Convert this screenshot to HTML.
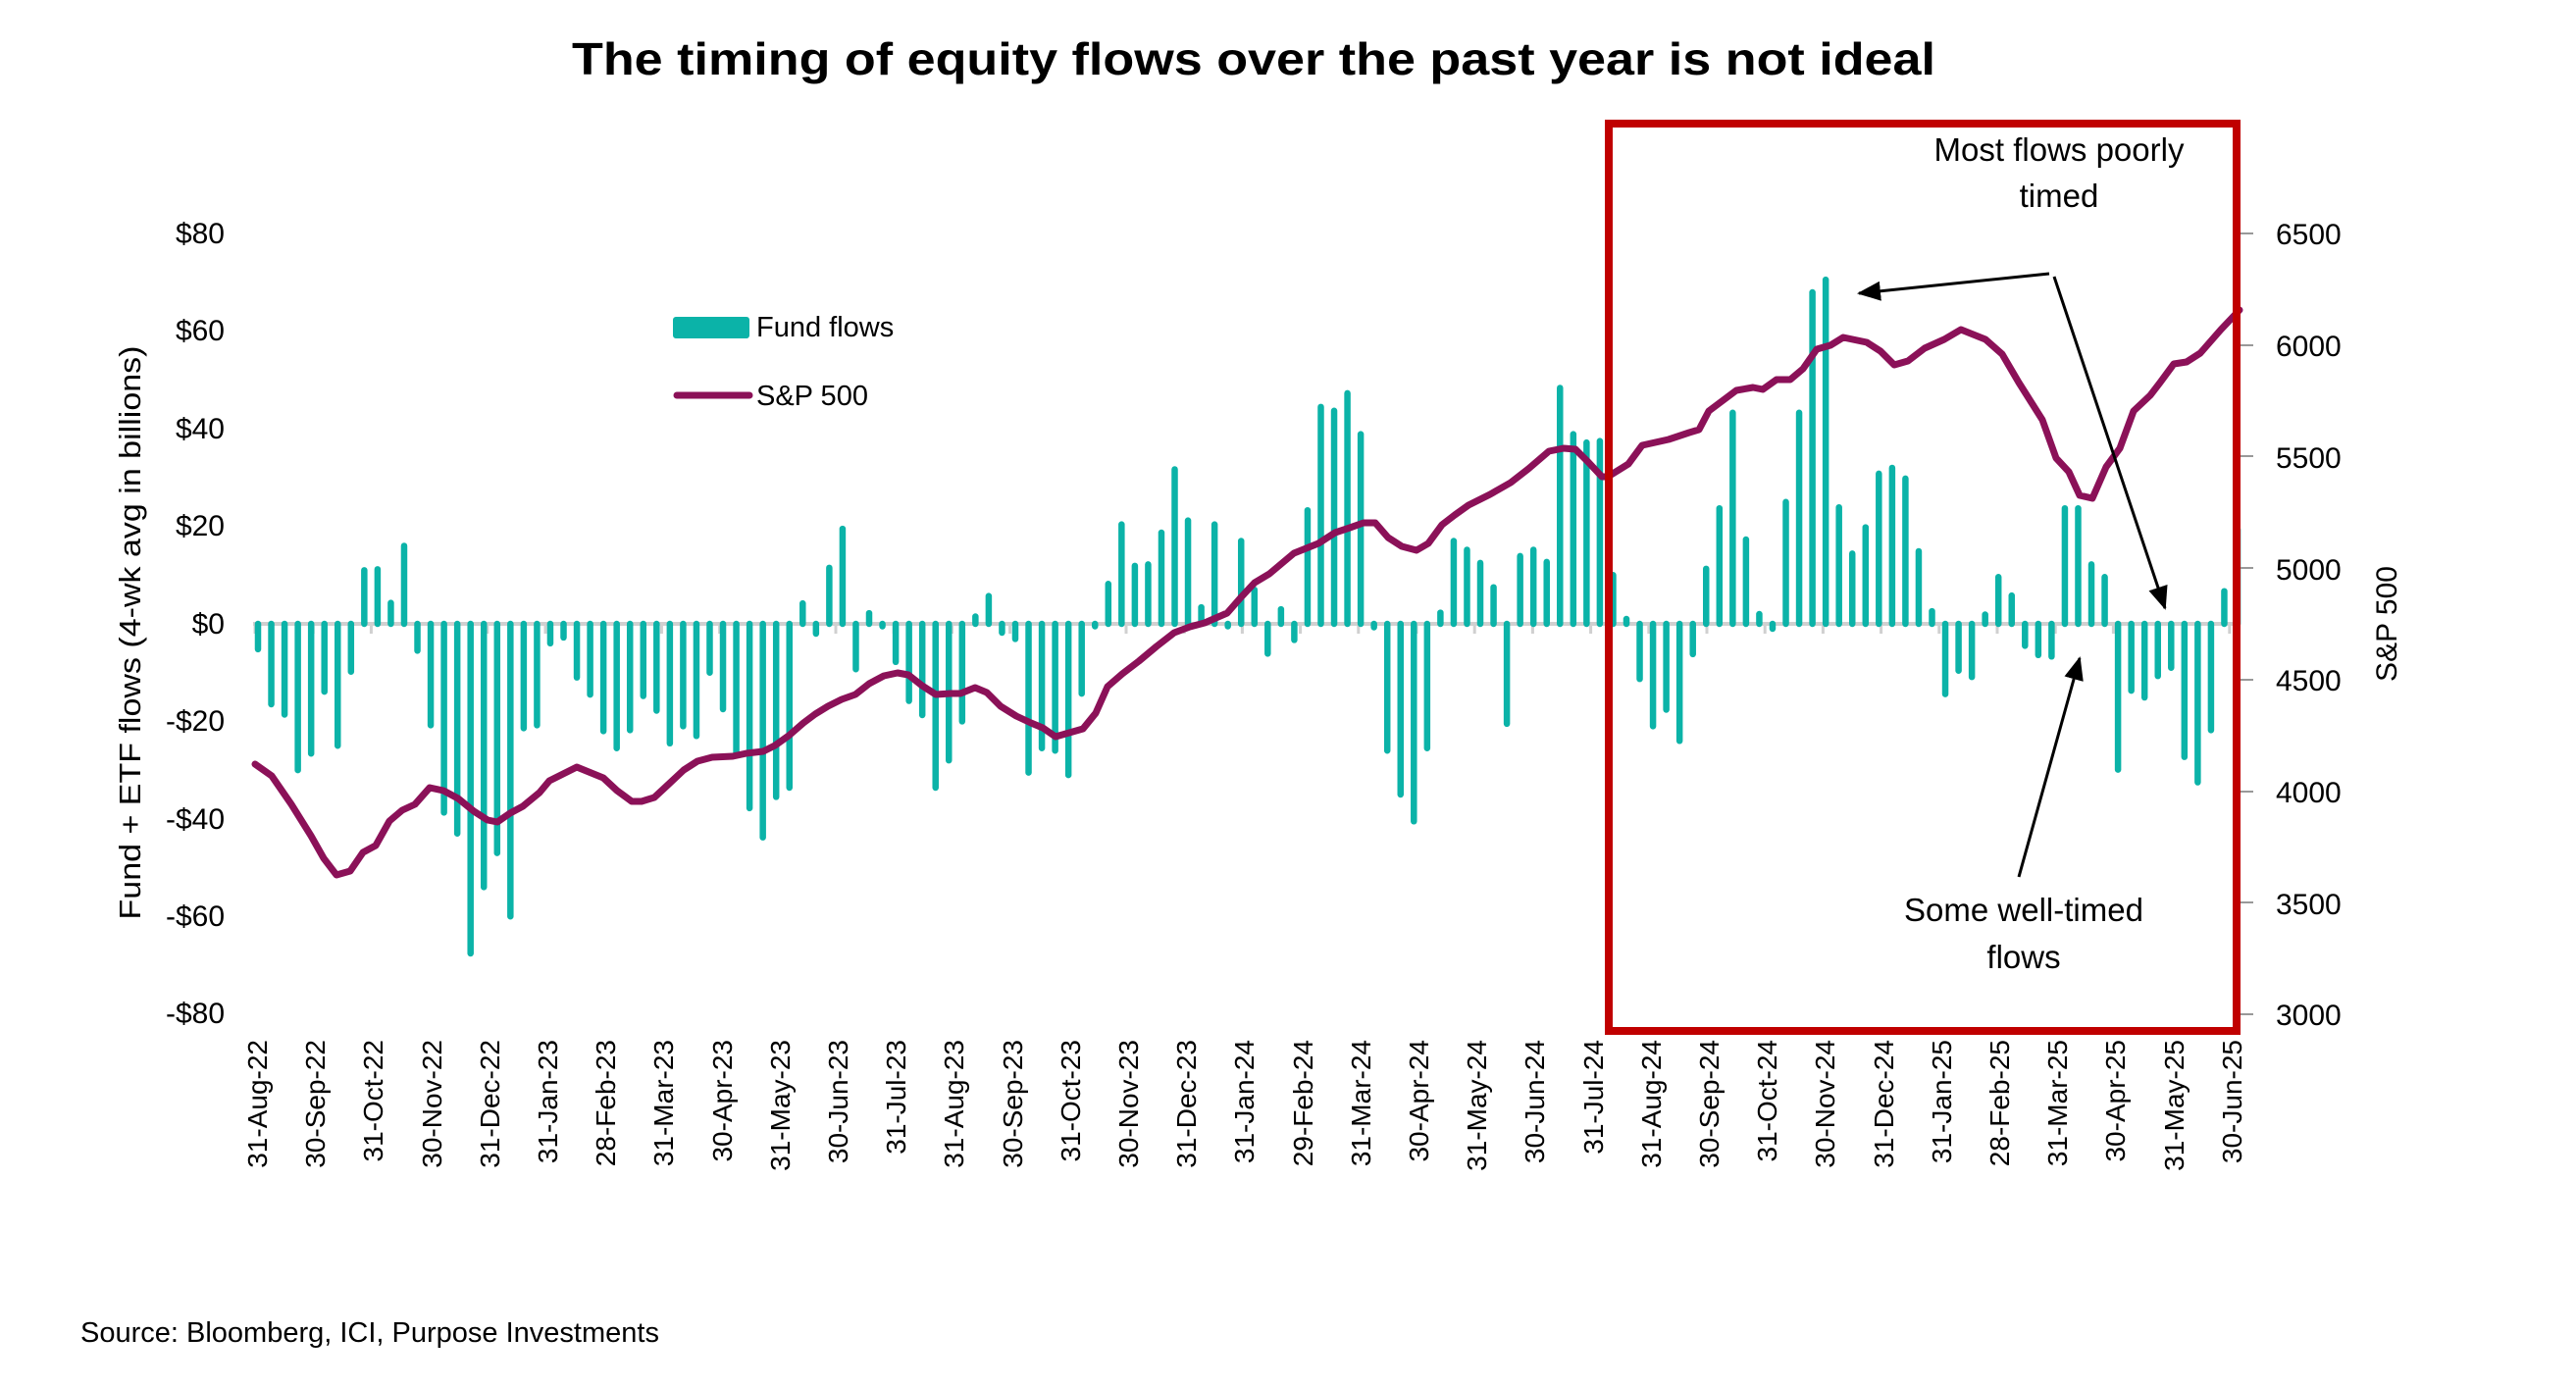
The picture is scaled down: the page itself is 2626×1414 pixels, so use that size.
<!DOCTYPE html>
<html><head><meta charset="utf-8"><style>
html,body{margin:0;padding:0;background:#fff}
svg{display:block}
text{font-family:"Liberation Sans",sans-serif;fill:#000}
</style></head><body>
<svg id="c" width="2626" height="1414" viewBox="0 0 2626 1414" xmlns="http://www.w3.org/2000/svg">
<rect width="2626" height="1414" fill="#fff"/>
<text x="1278" y="76" text-anchor="middle" font-size="46" font-weight="bold" textLength="1390" lengthAdjust="spacingAndGlyphs">The timing of equity flows over the past year is not ideal</text>
<g font-size="30" text-anchor="end">
<text x="229" y="248">$80</text>
<text x="229" y="347">$60</text>
<text x="229" y="447">$40</text>
<text x="229" y="546">$20</text>
<text x="229" y="646">$0</text>
<text x="229" y="745">-$20</text>
<text x="229" y="845">-$40</text>
<text x="229" y="944">-$60</text>
<text x="229" y="1043">-$80</text>
</g>
<text transform="translate(143,645) rotate(-90)" text-anchor="middle" font-size="31" textLength="585" lengthAdjust="spacingAndGlyphs">Fund + ETF flows (4-wk avg in billions)</text>
<g id="zero"></g>
<g id="bars"></g>
<g id="line"></g>
<g font-size="30">
<text x="2320" y="249">6500</text>
<text x="2320" y="363">6000</text>
<text x="2320" y="477">5500</text>
<text x="2320" y="591">5000</text>
<text x="2320" y="704">4500</text>
<text x="2320" y="818">4000</text>
<text x="2320" y="932">3500</text>
<text x="2320" y="1045">3000</text>
</g>
<g stroke="#999" stroke-width="2">
<line x1="2284" y1="238" x2="2297" y2="238"/><line x1="2284" y1="352" x2="2297" y2="352"/><line x1="2284" y1="465" x2="2297" y2="465"/><line x1="2284" y1="579" x2="2297" y2="579"/><line x1="2284" y1="693" x2="2297" y2="693"/><line x1="2284" y1="807" x2="2297" y2="807"/><line x1="2284" y1="920" x2="2297" y2="920"/><line x1="2284" y1="1034" x2="2297" y2="1034"/>
</g>
<text transform="translate(2443,636) rotate(-90)" text-anchor="middle" font-size="30">S&amp;P 500</text>
<rect x="686" y="323" width="78" height="22" rx="3" fill="#0bb3a8"/>
<text x="771" y="343" font-size="29">Fund flows</text>
<line x1="690" y1="403" x2="764" y2="403" stroke="#8b1158" stroke-width="7" stroke-linecap="round"/>
<text x="771" y="413" font-size="29">S&amp;P 500</text>
<g font-size="28" text-anchor="end">
<text transform="translate(272,1060) rotate(-90)">31-Aug-22</text>
<text transform="translate(331,1060) rotate(-90)">30-Sep-22</text>
<text transform="translate(390,1060) rotate(-90)">31-Oct-22</text>
<text transform="translate(450,1060) rotate(-90)">30-Nov-22</text>
<text transform="translate(509,1060) rotate(-90)">31-Dec-22</text>
<text transform="translate(568,1060) rotate(-90)">31-Jan-23</text>
<text transform="translate(627,1060) rotate(-90)">28-Feb-23</text>
<text transform="translate(686,1060) rotate(-90)">31-Mar-23</text>
<text transform="translate(746,1060) rotate(-90)">30-Apr-23</text>
<text transform="translate(805,1060) rotate(-90)">31-May-23</text>
<text transform="translate(864,1060) rotate(-90)">30-Jun-23</text>
<text transform="translate(923,1060) rotate(-90)">31-Jul-23</text>
<text transform="translate(982,1060) rotate(-90)">31-Aug-23</text>
<text transform="translate(1042,1060) rotate(-90)">30-Sep-23</text>
<text transform="translate(1101,1060) rotate(-90)">31-Oct-23</text>
<text transform="translate(1160,1060) rotate(-90)">30-Nov-23</text>
<text transform="translate(1219,1060) rotate(-90)">31-Dec-23</text>
<text transform="translate(1278,1060) rotate(-90)">31-Jan-24</text>
<text transform="translate(1338,1060) rotate(-90)">29-Feb-24</text>
<text transform="translate(1397,1060) rotate(-90)">31-Mar-24</text>
<text transform="translate(1456,1060) rotate(-90)">30-Apr-24</text>
<text transform="translate(1515,1060) rotate(-90)">31-May-24</text>
<text transform="translate(1574,1060) rotate(-90)">30-Jun-24</text>
<text transform="translate(1634,1060) rotate(-90)">31-Jul-24</text>
<text transform="translate(1693,1060) rotate(-90)">31-Aug-24</text>
<text transform="translate(1752,1060) rotate(-90)">30-Sep-24</text>
<text transform="translate(1811,1060) rotate(-90)">31-Oct-24</text>
<text transform="translate(1870,1060) rotate(-90)">30-Nov-24</text>
<text transform="translate(1930,1060) rotate(-90)">31-Dec-24</text>
<text transform="translate(1989,1060) rotate(-90)">31-Jan-25</text>
<text transform="translate(2048,1060) rotate(-90)">28-Feb-25</text>
<text transform="translate(2107,1060) rotate(-90)">31-Mar-25</text>
<text transform="translate(2166,1060) rotate(-90)">30-Apr-25</text>
<text transform="translate(2226,1060) rotate(-90)">31-May-25</text>
<text transform="translate(2285,1060) rotate(-90)">30-Jun-25</text>
</g>
<rect x="1640" y="126" width="640" height="925" fill="none" stroke="#c00000" stroke-width="8"/>
<g font-size="33" text-anchor="middle">
<text x="2099" y="164">Most flows poorly</text>
<text x="2099" y="211">timed</text>
<text x="2063" y="939">Some well-timed</text>
<text x="2063" y="987">flows</text>
</g>
<defs><marker id="ah" markerWidth="24" markerHeight="20" refX="22" refY="10" orient="auto" markerUnits="userSpaceOnUse" viewBox="0 0 24 20"><path d="M0,0 L24,10 L0,20 z" fill="#000"/></marker></defs>
<g stroke="#000" stroke-width="3" fill="none">
<line x1="2089" y1="279" x2="1895" y2="299" marker-end="url(#ah)"/>
<line x1="2094" y1="282" x2="2207" y2="620" marker-end="url(#ah)"/>
<line x1="2058" y1="894" x2="2120" y2="671" marker-end="url(#ah)"/>
</g>
<text x="82" y="1368" font-size="29">Source: Bloomberg, ICI, Purpose Investments</text>
</svg>
<script>
(function(){
var NS="http://www.w3.org/2000/svg";
function el(t,a,p){var e=document.createElementNS(NS,t);for(var k in a)e.setAttribute(k,a[k]);p.appendChild(e);return e;}
var z=636,k=4.97;
var zg=document.getElementById('zero');
el('line',{x1:258,y1:z,x2:2284,y2:z,stroke:'#d0d0d0','stroke-width':4},zg);
for(var i=0;i<35;i++){var x=260+59.2*i;el('line',{x1:x,y1:z,x2:x,y2:z+10,stroke:'#d0d0d0','stroke-width':3},zg);}
var v=[-5.2,-16.5,-18.6,-30,-26.6,-13.9,-25,-9.8,11,11.2,4.3,16,-5.5,-20.8,-38.7,-43,-67.6,-54,-47,-60,-21.4,-20.8,
-4,-2.8,-11,-14.5,-22,-25.5,-21.8,-14.8,-17.8,-24.5,-21,-23,-10,-17.5,-27,-37.8,-43.8,-35.5,-33.6,4.2,-2,11.5,19.5,-9.3,2.2,-0.5,-7.8,-15.8,-18.7,-33.6,-28,-20,1.5,5.7,-1.8,-3.1,-30.5,-25.5,-26,-31,
-14.3,-0.5,8.2,20.4,11.9,12.2,18.7,31.7,21.2,3.4,20.4,-0.5,17,7,-6.1,3,-3.3,23.3,44.5,43.7,47.3,38.9,-0.7,-26,-35,-40.5,-25.5,2.3,17,15.2,12.5,7.5,-20.5,13.9,15.2,12.7,48.4,38.9,37.2,37.5,10,
1,-11.3,-21,-17.6,-24,-6.2,11.3,23.7,43.3,17.3,2,-1,25,43.3,68,70.6,23.9,14.4,19.8,30.8,32,29.8,14.9,2.6,-14.4,-9.6,-10.9,1.9,9.6,5.8,-4.5,-6.4,-6.7,23.7,23.7,12.2,9.6,-29.9,-13.7,-15.1,-10.7,-9,-27.3,-32.5,-21.8,6.7,19.3];
var bg=document.getElementById('bars');
var n=v.length,x0=263,dx=(2281-263)/(n-1);
for(var i=0;i<n;i++){var x=x0+dx*i,h=v[i]*k;
el('line',{x1:x,y1:z,x2:x,y2:z-h,stroke:'#0bb3a8','stroke-width':6.5,'stroke-linecap':'round'},bg);}
var p=[[260,779],[277,791],[297,820],[317,852],[330,875],[343,892],[357,888],[370,869],[383,862],[397,837],[410,826],[423,820],[438,803],[452,806],[467,814],[483,827],[497,836],[507,838],[520,829],[533,822],[550,808],[560,796],[588,782],[615,793],[629,806],[644,817],[654,817],[667,813],[681,800],[697,785],[711,776],[726,772],[747,771],[761,768],[778,766],[790,760],[804,750],[819,737],[831,728],[844,720],[858,713],[872,708],[886,697],[901,689],[915,686],[926,688],[940,699],[954,708],[969,707],[979,707],[994,701],[1006,706],[1020,720],[1036,730],[1051,737],[1063,742],[1076,751],[1090,747],[1104,743],[1117,727],[1129,700],[1144,687],[1161,674],[1179,659],[1197,645],[1213,639],[1228,635],[1251,625],[1265,609],[1279,594],[1294,585],[1319,564],[1344,554],[1361,543],[1376,538],[1390,533],[1402,533],[1415,548],[1429,557],[1444,561],[1456,554],[1470,535],[1483,525],[1497,515],[1519,504],[1540,492],[1558,478],[1579,460],[1594,457],[1606,458],[1619,471],[1633,486],[1639,486],[1660,473],[1674,454],[1701,448],[1722,441],[1732,438],[1742,419],[1770,398],[1787,395],[1797,397],[1811,387],[1825,387],[1838,376],[1852,356],[1866,352],[1879,344],[1903,349],[1917,358],[1931,372],[1945,368],[1962,355],[1982,346],[1999,336],[2024,346],[2041,361],[2058,390],[2082,428],[2096,467],[2109,481],[2120,505],[2133,508],[2147,476],[2161,457],[2175,419],[2192,403],[2202,390],[2216,371],[2229,369],[2243,360],[2264,336],[2283,316]];
el('polyline',{points:p.map(function(q){return q.join(',')}).join(' '),fill:'none',stroke:'#8b1158','stroke-width':7,'stroke-linejoin':'round','stroke-linecap':'round'},document.getElementById('line'));
})();
</script>
</body></html>
